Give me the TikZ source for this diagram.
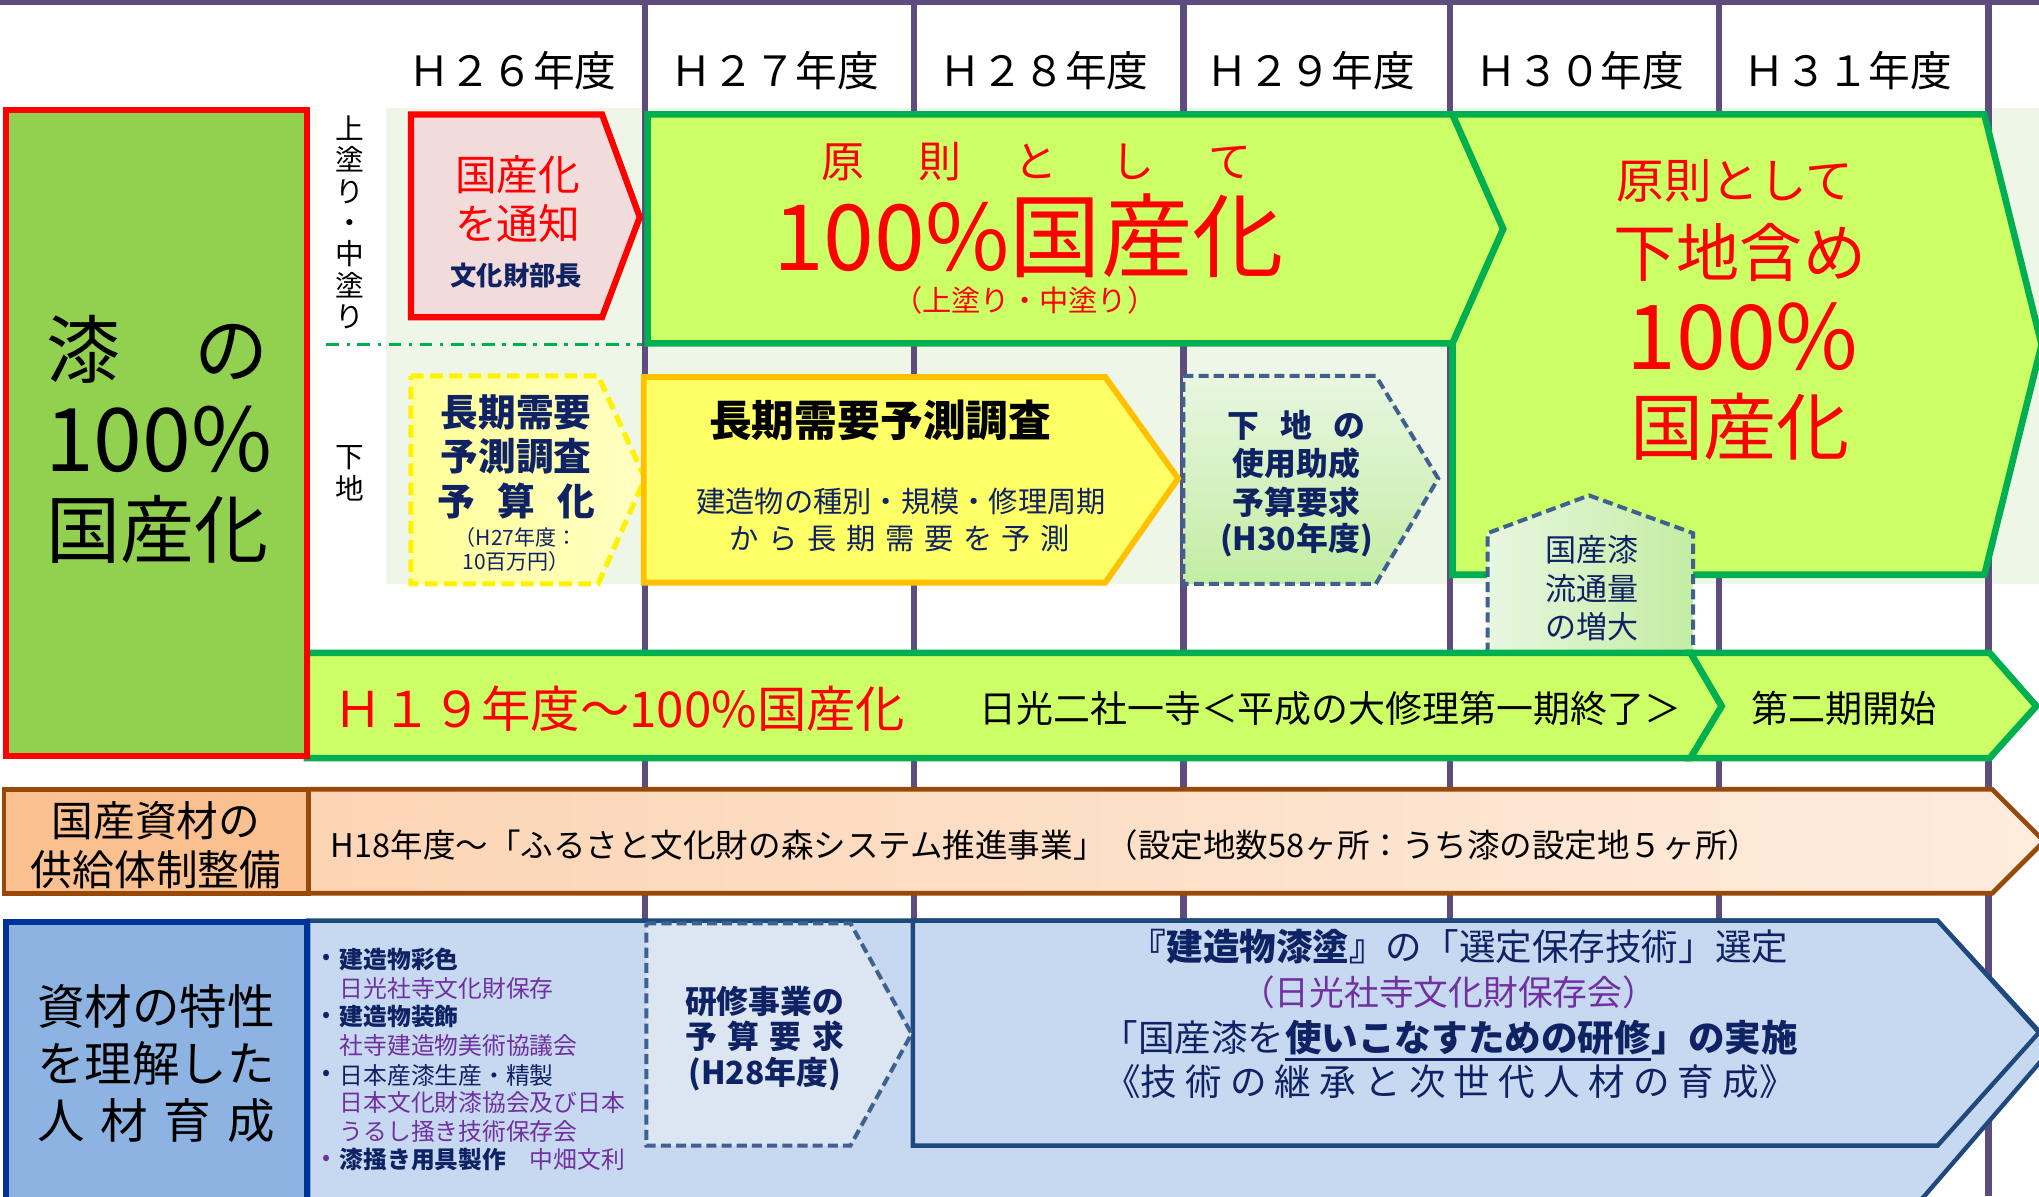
\documentclass[tikz,border=0pt]{standalone}
\usepackage{fontspec}
\setmainfont{Noto Sans CJK JP}
\usepackage{tikz}
\usepackage{xcolor}

\definecolor{lnpurple}{HTML}{5E4C7F}
\definecolor{bgpale}{HTML}{EEF6E7}
\definecolor{leafgreen}{HTML}{92D050}
\definecolor{limefill}{HTML}{CCFF66}
\definecolor{grn}{HTML}{00B050}
\definecolor{pinkfill}{HTML}{F2DCDB}
\definecolor{navy}{HTML}{0F2364}
\definecolor{purp}{HTML}{7030A0}
\definecolor{ypale}{HTML}{FFFF99}
\definecolor{ylight}{HTML}{FFFFC4}
\definecolor{yfill}{HTML}{FFFF66}
\definecolor{amber}{HTML}{FFC000}
\definecolor{steel}{HTML}{3F6190}
\definecolor{gpale}{HTML}{E8F6E0}
\definecolor{gmid}{HTML}{C3EDA3}
\definecolor{tanfill}{HTML}{FAC090}
\definecolor{rust}{HTML}{984807}
\definecolor{peach}{HTML}{FCD5B5}
\definecolor{peachlt}{HTML}{FEECDD}
\definecolor{skyfill}{HTML}{8DB3E2}
\definecolor{royal}{HTML}{003399}
\definecolor{icefill}{HTML}{C6D9F1}
\definecolor{icelt}{HTML}{DCE6F2}
\definecolor{denim}{HTML}{1F497D}

\newcommand{\fsz}[2]{\fontsize{#1}{#2}\selectfont}
\newcommand{\gapem}[1]{\hspace{#1em}}

\begin{document}
\begin{tikzpicture}[x=0.025cm, y=-0.025cm, every node/.style={inner sep=0pt},
        yrlabel/.style={font=\fsz{22.8pt}{24pt}},
        vline/.style={draw=lnpurple, line width=3.6pt},
        limeshape/.style={draw=grn, fill=limefill, line width=3.6pt},
        ydashed/.style={draw=yellow, line width=2.8pt, dash pattern=on 7pt off 3.5pt, left color=ypale, right color=ylight},
        gdashed/.style={draw=steel, line width=2.2pt, dash pattern=on 5.5pt off 2.8pt},
        navybold/.style={text=navy, font=\bfseries\fsz{17.4pt}{18pt}},
        itemtxt/.style={anchor=west, text=navy, font=\fsz{13pt}{14pt}}]
        \useasboundingbox (0,0) rectangle (1568,920);
        \clip (0,0) rectangle (1568,920);

        \fill[bgpale] (297,83) rectangle (1568,449);
        \fill[lnpurple] (0,0) rectangle (1568,4);
        \foreach \x in {496,703,910,1115,1322,1529}
            \draw[vline] (\x,0) -- (\x,920);

        \foreach \yr/\x [count=\i from 26] in {Ｈ２６年度/394, Ｈ２７年度/596, Ｈ２８年度/803, Ｈ２９年度/1008, Ｈ３０年度/1215, Ｈ３１年度/1421}
            \node[yrlabel] (year\i) at (\x,54) {\yr};

        \node[font=\fsz{15.7pt}{17.1pt}, align=center] (uwanuri) at (269,171) {上\\塗\\り\\・\\中\\塗\\り};
        \node[font=\fsz{15.7pt}{17.1pt}, align=center] (shitaji) at (269,364) {下\\地};
        \coordinate (dd1) at (251,265);
        \coordinate (dd2) at (494,265);
        \draw[grn, line width=1.9pt, dash pattern=on 7pt off 4pt on 2pt off 4pt] (dd1) -- (dd2);

        \draw[draw=red, fill=pinkfill, line width=3.4pt] (316,88) -- (463,88) -- (492,167) -- (463,244) -- (316,244) -- cycle;
        \node[text=red, font=\fsz{22.8pt}{24pt}] (tsuchi1) at (398,134) {国産化};
        \node[text=red, font=\fsz{22.8pt}{24pt}] (tsuchi2) at (398,172) {を通知};
        \node[text=navy, font=\bfseries\fsz{14.4pt}{15pt}] (bucho) at (397,212) {文化財部長};

        \draw[limeshape] (498,88) -- (1117,88) -- (1156,176) -- (1117,264) -- (498,264) -- cycle;
        \draw[limeshape] (1117,88) -- (1526,88) -- (1570,265) -- (1526,442) -- (1117,442) -- (1117,264) -- (1156,176) -- cycle;
        \node[text=red, font=\fsz{23.5pt}{24pt}] (gensoku) at (797,124) {原\gapem{1.25}則\gapem{1.25}と\gapem{1.25}し\gapem{1.25}て};
        \node[text=red, font=\fsz{50pt}{52pt}] (zenbu) at (791,181) {100\%国産化};
        \node[text=red, font=\fsz{16pt}{17pt}] (nuri) at (788,231) {（上塗り・中塗り）};
        \node[text=red, font=\fsz{26pt}{27pt}] (gensoku2) at (1334,139) {原則として};
        \node[text=red, font=\fsz{34.5pt}{36pt}] (komi) at (1338,194) {下地含め};
        \node[text=red, font=\fsz{49pt}{50pt}] (pct2) at (1340,259) {100\%};
        \node[text=red, font=\fsz{40pt}{41pt}] (kokusan2) at (1338,328) {国産化};

        \draw[ydashed] (316,289) -- (460,289) -- (496,368) -- (460,449) -- (316,449) -- cycle;
        \node[text=navy, font=\bfseries\fsz{20.6pt}{21pt}] (chosa1) at (397,317) {長期需要};
        \node[text=navy, font=\bfseries\fsz{20.6pt}{21pt}] (chosa2) at (397,351) {予測調査};
        \node[text=navy, font=\bfseries\fsz{20.6pt}{21pt}] (chosa3) at (397,385) {予\gapem{.6}算\gapem{.6}化};
        \node[text=navy, font=\fsz{11.5pt}{12pt}] (chosa4) at (397,413) {（H27年度：};
        \node[text=navy, font=\fsz{11.5pt}{12pt}] (chosa5) at (397,432) {10百万円）};

        \draw[draw=amber, fill=yfill, line width=3.2pt] (495,290) -- (850,290) -- (906,368) -- (850,448) -- (495,448) -- cycle;
        \node[font=\bfseries\fsz{23.4pt}{24pt}] (yosoku) at (677,323) {長期需要予測調査};
        \node[text=navy, font=\fsz{16pt}{17pt}] (yosoku1) at (693,386) {建造物の種別・規模・修理周期};
        \node[text=navy, font=\fsz{16pt}{17pt}] (yosoku2) at (692,414) {か\gapem{.33}ら\gapem{.33}長\gapem{.33}期\gapem{.33}需\gapem{.33}要\gapem{.33}を\gapem{.33}予\gapem{.33}測};

        \draw[gdashed, top color=gpale, bottom color=gmid] (910,289) -- (1058,289) -- (1106,368) -- (1058,449) -- (910,449) -- cycle;
        \node[navybold] (josei1) at (997,327) {下\gapem{.66}地\gapem{.66}の};
        \node[navybold] (josei2) at (997,356) {使用助成};
        \node[navybold] (josei3) at (997,386) {予算要求};
        \node[navybold] (josei4) at (997,415) {(H30年度)};

        \draw[gdashed, left color=gpale, right color=gmid] (1144,502) -- (1144,410) -- (1222,381) -- (1302,410) -- (1302,502) -- cycle;
        \node[text=navy, font=\fsz{17pt}{18pt}] (ryutsu1) at (1224,423) {国産漆};
        \node[text=navy, font=\fsz{17pt}{18pt}] (ryutsu2) at (1224,453) {流通量};
        \node[text=navy, font=\fsz{17pt}{18pt}] (ryutsu3) at (1224,482) {の増大};

        \draw[limeshape] (236,502) -- (1300,502) -- (1324,543) -- (1300,583) -- (236,583) -- cycle;
        \draw[limeshape] (1300,502) -- (1530,502) -- (1566,543) -- (1530,583) -- (1300,583) -- (1324,543) -- cycle;
        \node[anchor=west, text=red, font=\fsz{27pt}{28pt}] (h19) at (256,545) {Ｈ１９年度～100\%国産化};
        \node[font=\fsz{20.2pt}{21pt}] (nikko) at (1023,545) {日光二社一寺＜平成の大修理第一期終了＞};
        \node[font=\fsz{20.3pt}{21pt}] (daini) at (1418,545) {第二期開始};

        \draw[draw=red, fill=leafgreen, line width=3.6pt] (4.5,84.5) rectangle (236,581.5);
        \node[font=\fsz{40.5pt}{42pt}] (urushi) at (121,269) {漆　の};
        \node[font=\fsz{48pt}{50pt}] (pct) at (122,338) {100\%};
        \node[font=\fsz{40.5pt}{42pt}] (kokusan) at (121,407) {国産化};

        \draw[draw=rust, line width=2.6pt, left color=peach, right color=peachlt] (237,607) -- (1532,607) -- (1572,647) -- (1532,687) -- (237,687) -- cycle;
        \draw[draw=rust, line width=2.6pt, fill=tanfill] (3,607) rectangle (237,687);
        \node[font=\fsz{22.8pt}{24pt}] (shizai1) at (120,631) {国産資材の};
        \node[font=\fsz{22.8pt}{24pt}] (shizai2) at (120,669) {供給体制整備};
        \node[anchor=west, font=\fsz{17.8pt}{19pt}] (mori) at (254,650) {H18年度～「ふるさと文化財の森システム推進事業」（設定地数58ヶ所：うち漆の設定地５ヶ所）};

        \draw[draw=denim, line width=2.4pt, fill=icefill] (237,708) -- (1490,708) -- (1579,805) -- (1471,930) -- (237,930) -- cycle;
        \draw[draw=denim, line width=2.4pt, fill=icefill] (702,708) -- (1490,708) -- (1568,794) -- (1490,881) -- (702,881) -- cycle;
        \draw[draw=steel, line width=2.2pt, dash pattern=on 5.5pt off 2.8pt, fill=icelt] (497,710) -- (654,710) -- (701,795) -- (654,881) -- (497,881) -- cycle;
        \draw[draw=royal, line width=3.6pt, fill=skyfill] (4.5,709) rectangle (236,935);
        \node[font=\fsz{26pt}{27pt}] (jinzai1) at (120,774) {資材の特性};
        \node[font=\fsz{26pt}{27pt}] (jinzai2) at (120,818) {を理解した};
        \node[font=\fsz{26pt}{27pt}] (jinzai3) at (120,862) {人\gapem{.33}材\gapem{.33}育\gapem{.33}成};

        \foreach \yy/\c [count=\i] in {738/navy, 782/navy, 827/navy, 892/purp}
            \node[text=\c, font=\fsz{13pt}{14pt}] (dot\i) at (251,\yy) {•};
        \foreach \txt/\yy [count=\i] in {{\textbf{建造物彩色}}/738, {\color{purp}日光社寺文化財保存}/760, {\textbf{建造物装飾}}/782, {\color{purp}社寺建造物美術協議会}/804, {日本産漆生産・精製}/827, {\color{purp}日本文化財漆協会及び日本}/848, {\color{purp}うるし掻き技術保存会}/870, {\textbf{漆掻き用具製作}\gapem{1}{\color{purp}中畑文利}}/892}
            \node[itemtxt] (item\i) at (261,\yy) {\txt};

        \node[navybold] (kenshu1) at (588,770) {研修事業の};
        \node[navybold] (kenshu2) at (588,797) {予\gapem{.33}算\gapem{.33}要\gapem{.33}求};
        \node[navybold] (kenshu3) at (588,826) {(H28年度)};

        \node[text=navy, font=\fsz{20pt}{21pt}] (sentei) at (1122,728) {\textbf{『建造物漆塗』}の「選定保存技術」選定};
        \node[text=purp, font=\fsz{19pt}{20pt}] (hozonkai) at (1114,763) {（日光社寺文化財保存会）};
        \node[anchor=east, text=navy, font=\fsz{20pt}{21pt}] (jisshi1) at (988,798) {「国産漆を};
        \node[anchor=west, text=navy, font=\bfseries\fsz{20pt}{21pt}] (jisshi2) at (jisshi1.east) {使いこなすための研修};
        \node[anchor=west, text=navy, font=\bfseries\fsz{20pt}{21pt}] (jisshi3) at (jisshi2.east) {」の実施};
        \draw[navy, line width=1.3pt] ([yshift=-2pt]jisshi2.south west) -- ([yshift=-2pt]jisshi2.south east);
        \node[text=navy, font=\fsz{20pt}{21pt}] (keisho) at (1115,832) {《技 術 の 継 承 と 次 世 代 人 材 の 育 成》};
\end{tikzpicture}
\end{document}
